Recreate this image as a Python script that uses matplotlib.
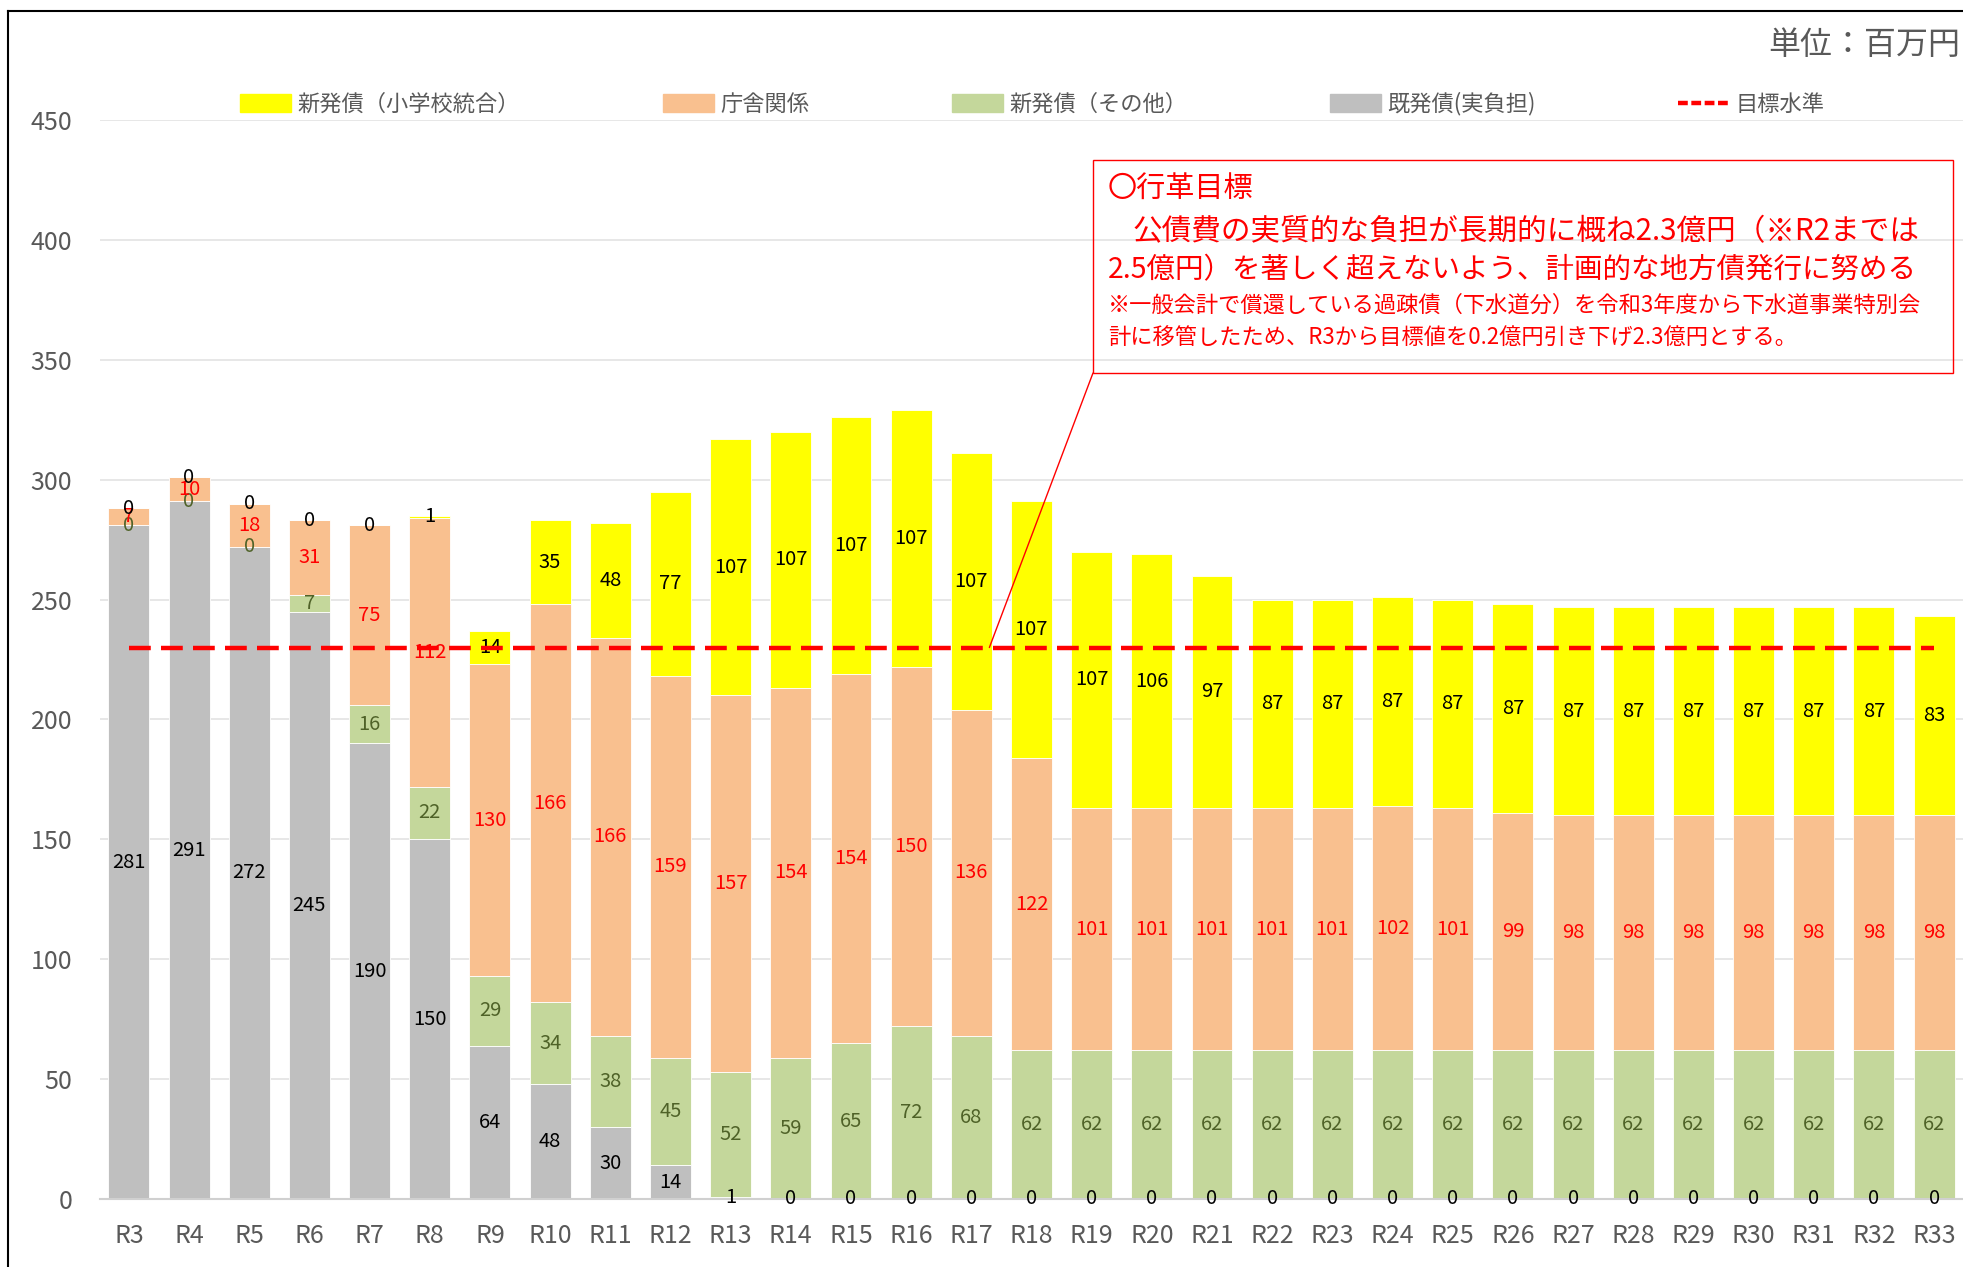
import matplotlib
import numpy as np

matplotlib.use("Agg")
import matplotlib.pyplot as plt  # noqa: E402
from matplotlib.lines import Line2D  # noqa: E402
from matplotlib.patches import Patch, Rectangle  # noqa: E402

plt.rcParams["font.family"] = ["Noto Sans CJK JP", "DejaVu Sans"]

# --- data (百万円) ---
years = [f"R{i}" for i in range(3, 34)]
kihakkou = [281, 291, 272, 245, 190, 150, 64, 48, 30, 14, 1, 0, 0, 0, 0, 0,
            0, 0, 0, 0, 0, 0, 0, 0, 0, 0, 0, 0, 0, 0, 0]
shinki_other = [0, 0, 0, 7, 16, 22, 29, 34, 38, 45, 52, 59, 65, 72, 68, 62,
                62, 62, 62, 62, 62, 62, 62, 62, 62, 62, 62, 62, 62, 62, 62]
chousha = [7, 10, 18, 31, 75, 112, 130, 166, 166, 159, 157, 154, 154, 150, 136, 122,
           101, 101, 101, 101, 101, 102, 101, 99, 98, 98, 98, 98, 98, 98, 98]
shinki_school = [0, 0, 0, 0, 0, 1, 14, 35, 48, 77, 107, 107, 107, 107, 107, 107,
                 107, 106, 97, 87, 87, 87, 87, 87, 87, 87, 87, 87, 87, 87, 83]
target_level = 230

W, H = 1963, 1267
fig = plt.figure(figsize=(W / 100, H / 100), dpi=100)
ax = fig.add_axes([100 / W, 68 / H, 1 - 100 / W, 1079 / H])

x = np.arange(len(years))
bw = 0.68
series = [
    (kihakkou, "#BFBFBF", "black", "既発債(実負担)"),
    (shinki_other, "#C4D79B", "#4F6228", "新発債（その他）"),
    (chousha, "#F9C08F", "#FF0000", "庁舎関係"),
    (shinki_school, "#FFFF00", "black", "新発債（小学校統合）"),
]
bottom = np.zeros(len(years))
for vals, fc, tc, _ in series:
    vals = np.asarray(vals, float)
    ax.bar(x, vals, bw, bottom=bottom, color=fc, edgecolor="white", linewidth=0.6, zorder=2)
    for xi, b, v in zip(x, bottom, vals):
        ax.text(xi, b + v / 2, f"{int(v)}", ha="center", va="center",
                fontsize=14.5, color=tc, zorder=3)
    bottom += vals

dash = (4.9, 2.3)
ax.plot([x[0], x[-1]], [target_level, target_level], color="#FF0000", lw=3.2,
        dashes=dash, zorder=4)

ax.set_xlim(-0.48, len(years) - 0.52)
ax.set_ylim(0, 450)
ax.set_yticks(np.arange(0, 451, 50))
ax.set_xticks(x)
ax.set_xticklabels(years)
ax.tick_params(axis="both", length=0, labelsize=18, colors="#595959")
ax.tick_params(axis="y", pad=20)
ax.tick_params(axis="x", pad=17)
ax.grid(axis="y", color="#E3E3E3", lw=1.2, zorder=0)
ax.set_axisbelow(True)
for s in ("top", "right", "left"):
    ax.spines[s].set_visible(False)
ax.spines["bottom"].set_color("#D0D0D0")
ax.spines["bottom"].set_linewidth(1.5)

# legend
handles = [Patch(color=c) for _, c, _, _ in reversed(series)]
labels = [lab for _, _, _, lab in reversed(series)]
handles.append(Line2D([], [], color="#FF0000", lw=3.2, dashes=(2.2, 0.8)))
labels.append("目標水準")
fig.legend(handles, labels, loc="center left", bbox_to_anchor=(240 / W, 1 - 104 / H),
           ncol=5, frameon=False, fontsize=16, handlelength=2.3, handleheight=0.85,
           handletextpad=0.3, columnspacing=6.4, borderpad=0, borderaxespad=0,
           labelcolor="#595959")

fig.text(1960 / W, 1 - 45 / H, "単位：百万円", ha="right", va="center",
         fontsize=23, color="#595959")

# annotation box
fig.add_artist(Rectangle((1093 / W, 1 - 373 / H), 860 / W, 213 / H,
                         transform=fig.transFigure, fill=False, ec="#FF0000", lw=1))
red = "#FF0000"
fig.text(1108 / W, 1 - 189 / H, "〇行革目標", fontsize=21, color=red, va="center")
fig.text(1133 / W, 1 - 232 / H, "公債費の実質的な負担が長期的に概ね2.3億円（※R2までは",
         fontsize=21.3, color=red, va="center")
fig.text(1108 / W, 1 - 270 / H, "2.5億円）を著しく超えないよう、計画的な地方債発行に努める",
         fontsize=20.5, color=red, va="center")
fig.text(1108 / W, 1 - 305 / H, "※一般会計で償還している過疎債（下水道分）を令和3年度から下水道事業特別会",
         fontsize=16, color=red, va="center")
fig.text(1108 / W, 1 - 337 / H, "計に移管したため、R3から目標値を0.2億円引き下げ2.3億円とする。",
         fontsize=16, color=red, va="center")
ax.annotate("", xy=(14.3, target_level), xycoords="data",
            xytext=(1093 / W, 1 - 373 / H), textcoords="figure fraction",
            arrowprops=dict(arrowstyle="-", color=red, lw=1, shrinkA=0, shrinkB=0))

# chart frame (left and top edges visible)
fig.add_artist(Line2D([8 / W, 8 / W], [0, 1 - 11 / H], color="black", lw=1.5,
                      transform=fig.transFigure))
fig.add_artist(Line2D([8 / W, 1], [1 - 11 / H, 1 - 11 / H], color="black", lw=1.5,
                      transform=fig.transFigure))

fig.savefig("out.png", dpi=100)
